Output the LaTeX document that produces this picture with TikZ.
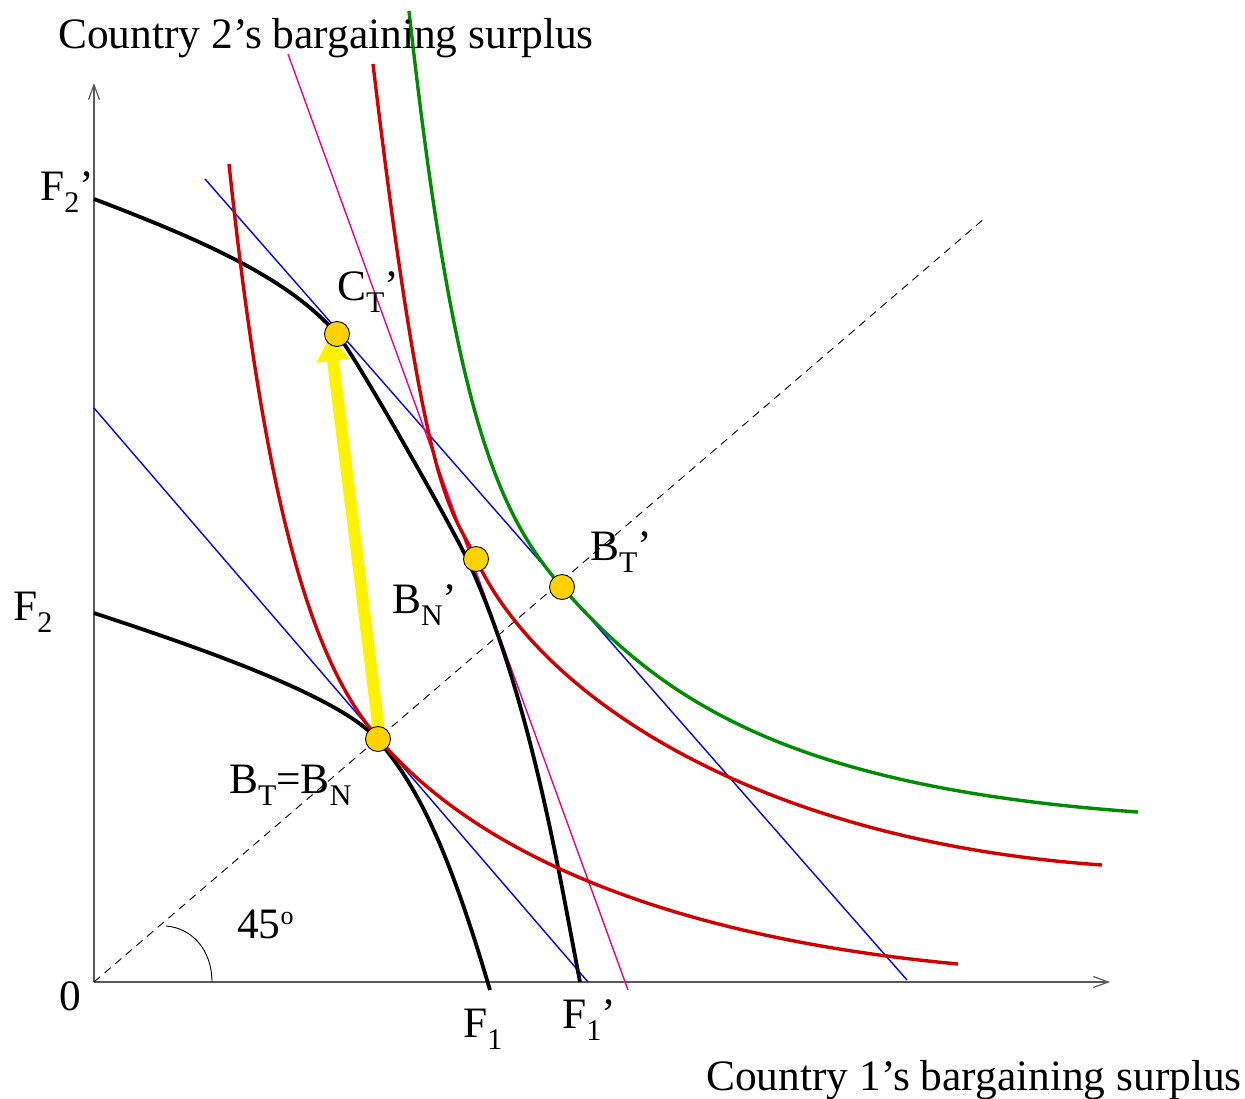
\documentclass[tikz,border=0pt]{standalone}
\usepackage{fontspec}
\setmainfont{Liberation Serif}
\usetikzlibrary{arrows.meta}
\newcommand{\lsub}[1]{\raisebox{-12pt}{\fontsize{30}{30}\selectfont #1}}
\newcommand{\lsup}[1]{\raisebox{14pt}{\fontsize{26}{26}\selectfont #1}}
\definecolor{cred}{RGB}{208,0,0}
\definecolor{cgreen}{RGB}{0,140,0}
\definecolor{cdot}{RGB}{255,210,0}
\begin{document}
\begin{tikzpicture}[x=1pt,y=-1pt,
  lbl/.style={anchor=base west,inner sep=0pt,font=\fontsize{43.4}{50}\selectfont},
  axis/.style={draw=black!65,line width=1.3pt,-{Straight Barb[length=15pt,width=11pt,line width=1.2pt]}},
  frontier/.style={draw=black,line width=3.8pt},
  nash/.style={draw=cred,line width=3.4pt},
  nashg/.style={draw=cgreen,line width=3.4pt},
  tang/.style={draw=blue,line width=1.4pt},
  tangm/.style={draw=magenta,line width=1.4pt},
  diag/.style={draw=black,line width=0.9pt,dash pattern=on 8pt off 6pt},
  pt/.style={circle,draw=black,line width=0.9pt,fill=cdot,minimum size=25pt,inner sep=0pt},
  move/.style={draw=yellow,line width=12pt,-{Triangle[length=25pt,width=32pt]}}]
\useasboundingbox (0,0) rectangle (1245,1098);
% axes
\coordinate (O) at (94,982);
\coordinate (Xend) at (1110,982);
\coordinate (Yend) at (94,83);
\draw[axis] (O) -- (Xend);
\draw[axis] (O) -- (Yend);
% 45 degree line
\coordinate (Dend) at (985,218);
\draw[diag] (O) -- (Dend);
\draw[line width=0.9pt] (212,982) .. controls (212,950) and (192,928) .. (166,926);
% tangent lines
\coordinate (b1a) at (94,408); \coordinate (b1b) at (588,982);
\coordinate (b2a) at (205,179); \coordinate (b2b) at (907,980);
\coordinate (ma) at (288,54); \coordinate (mb) at (628,990);
\draw[tang] (b1a) -- (b1b);
\draw[tang] (b2a) -- (b2b);
\draw[tangm] (ma) -- (mb);
% frontiers
\draw[frontier] (94,613) .. controls (188.9,644.6) and (338.9,694.5) .. (378,740)
  .. controls (417.1,785.5) and (447.7,846.2) .. (490,990);
\draw[frontier] (94,199) .. controls (215.6,245.2) and (290.9,281.4) .. (337,334)
  .. controls (353.5,352.8) and (453.4,528.6) .. (470,565)
  .. controls (532,701.5) and (560.8,883.9) .. (580,982);
% Nash curves
\draw[nash] (229,164) .. controls (266,514) and (313,663) .. (378,738)
  .. controls (424,792) and (560,927) .. (958,964);
\draw[nash] (373,64) .. controls (426.1,510.9) and (450.8,504.6) .. (476,559)
  .. controls (539,695) and (752.8,840.5) .. (1102,865);
\draw[nashg] (409,11) .. controls (453,408.6) and (496.1,511.8) .. (562,587)
  .. controls (660.9,699.8) and (788.8,787.5) .. (1138,812);
% points
\coordinate (BTBN) at (378,739);
\coordinate (BNp) at (476,559);
\coordinate (BTp) at (562,587);
\coordinate (CTp) at (337,334);
\coordinate (tail) at (380,739);
\coordinate (tip) at (330,336);
\draw[move] (tail) -- (tip);
\node[pt] (p1) at (BTBN) {};
\node[pt] (p2) at (BNp) {};
\node[pt] (p3) at (BTp) {};
\node[pt] (p4) at (CTp) {};
% labels
\node[lbl] (t2) at (58,48) {Country 2’s bargaining surplus};
\node[lbl] (t1) at (706,1090) {Country 1’s bargaining surplus};
\node[lbl] (l0) at (59,1010) {0};
\node[lbl] (l45) at (237,938) {45\lsup{o}};
\node[lbl] (lF1) at (463,1037) {F\lsub{1}};
\node[lbl] (lF1p) at (562,1028) {F\lsub{1}’};
\node[lbl] (lF2p) at (40,200) {F\lsub{2}’};
\node[lbl] (lF2) at (13,620) {F\lsub{2}};
\node[lbl] (lCT) at (337,300) {C\lsub{T}’};
\node[lbl] (lBT) at (590,560) {B\lsub{T}’};
\node[lbl] (lBN) at (392,613) {B\lsub{N}’};
\node[lbl] (lBB) at (229,793) {B\lsub{T}=B\lsub{N}};
\end{tikzpicture}
\end{document}
